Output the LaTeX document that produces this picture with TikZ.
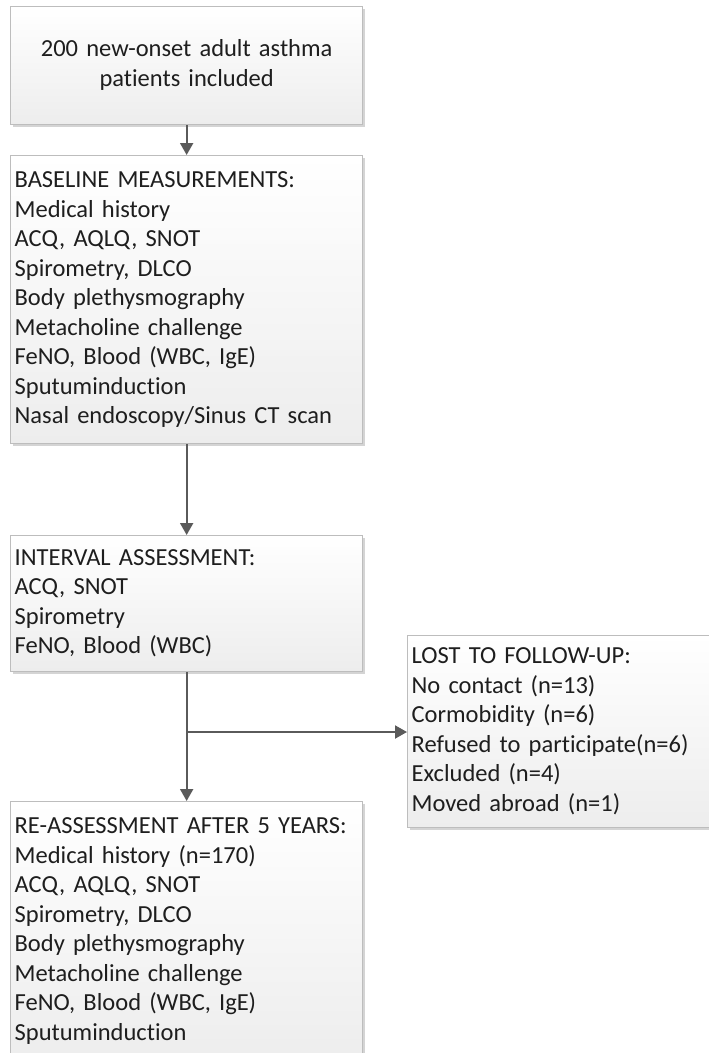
\documentclass[tikz,border=0pt]{standalone}
\usepackage{fontspec}
\setmainfont{Carlito}[Ligatures={NoCommon}]
\usetikzlibrary{arrows.meta,shadows}
\definecolor{boxborder}{HTML}{BDBDBD}
\definecolor{arrowcol}{HTML}{5A5A5A}
\definecolor{textcol}{HTML}{1E1E1E}
\definecolor{fillbot}{HTML}{EDEDED}
\definecolor{shadowcol}{HTML}{D4D4D4}
\tikzset{
  flowbox/.style={draw=boxborder, line width=1.3pt, top color=white, bottom color=fillbot,
    drop shadow={shadow xshift=2.5pt, shadow yshift=-2.5pt, fill=shadowcol, opacity=1},
    text=textcol, font=\fontsize{24.5}{29.5}\selectfont, inner xsep=4pt,
    anchor=north west, align=left,
    execute at begin node=\strut, execute at end node=\strut},
  arr/.style={draw=arrowcol, line width=2pt, -{Triangle[length=12pt,width=13pt]}},
  plainline/.style={draw=arrowcol, line width=2pt}
}
\begin{document}
\begin{tikzpicture}[x=1pt,y=-1pt]
\path[use as bounding box] (0,0) rectangle (709,1053);
\clip (0,0) rectangle (709,1053);
\node[flowbox, align=center, minimum width=352pt, minimum height=118pt, text width=344pt] (incl) at (10,6)
  {200 new-onset adult asthma\\patients included};
\node[flowbox, minimum width=352pt, minimum height=288pt, text width=344pt] (base) at (10,155)
  {BASELINE MEASUREMENTS:\\Medical history\\ACQ, AQLQ, SNOT\\Spirometry, DLCO\\Body plethysmography\\Metacholine challenge\\FeNO, Blood (WBC, IgE)\\Sputuminduction\\Nasal endoscopy/Sinus CT scan};
\node[flowbox, minimum width=352pt, minimum height=136pt, text width=344pt] (interval) at (10,535)
  {INTERVAL ASSESSMENT:\\ACQ, SNOT\\Spirometry\\FeNO, Blood (WBC)};
\node[flowbox, minimum width=330pt, minimum height=192pt, text width=322pt] (lost) at (407,635)
  {LOST TO FOLLOW-UP:\\No contact (n=13)\\Cormobidity (n=6)\\Refused to participate(n=6)\\Excluded (n=4)\\Moved abroad (n=1)};
\node[flowbox, minimum width=352pt, text width=344pt, inner ysep=11.35pt] (reass) at (10,801)
  {RE-ASSESSMENT AFTER 5 YEARS:\\Medical history (n=170)\\ACQ, AQLQ, SNOT\\Spirometry, DLCO\\Body plethysmography\\Metacholine challenge\\FeNO, Blood (WBC, IgE)\\Sputuminduction};
\coordinate (branch) at (186,732);
\draw[arr] (incl.south) -- (base.north);
\draw[arr] (base.south) -- (interval.north);
\draw[arr] (interval.south) -- (reass.north);
\draw[arr] (branch) -- (branch -| lost.west);
\end{tikzpicture}
\end{document}
